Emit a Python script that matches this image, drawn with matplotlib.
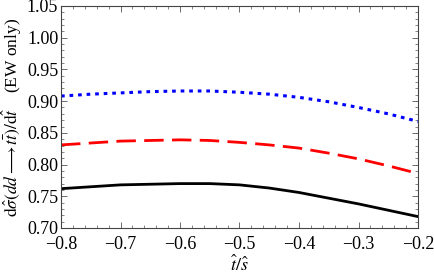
import matplotlib
matplotlib.use("Agg")
import matplotlib.pyplot as plt
from matplotlib.ticker import MultipleLocator, FuncFormatter

plt.rcParams['font.family'] = ['Liberation Serif', 'DejaVu Serif']
plt.rcParams['mathtext.fontset'] = 'stix'

x = [-0.8, -0.75, -0.7, -0.65, -0.6, -0.55, -0.5, -0.45, -0.4, -0.35, -0.3, -0.25, -0.2]
black = [0.762, 0.765, 0.768, 0.769, 0.770, 0.770, 0.768, 0.763, 0.756, 0.747, 0.738, 0.728, 0.718]
red = [0.831, 0.834, 0.837, 0.838, 0.839, 0.838, 0.835, 0.831, 0.826, 0.818, 0.809, 0.798, 0.786]
blue = [0.908, 0.911, 0.913, 0.915, 0.916, 0.916, 0.914, 0.911, 0.906, 0.899, 0.890, 0.880, 0.868]

fig = plt.figure(figsize=(4.35, 2.77), dpi=100)
ax = fig.add_axes([61/435, 1 - 228/277, (418-61)/435, (228-6)/277])

ax.plot(x, black, color='black', lw=2)
ax.plot(x, red, color='red', lw=2, dashes=(7, 3))
ax.plot(x, blue, color='blue', lw=2.2, dashes=(1.2, 1.6))

ax.set_xlim(-0.8, -0.2)
ax.set_ylim(0.70, 1.05)
ax.xaxis.set_major_locator(MultipleLocator(0.1))
ax.xaxis.set_minor_locator(MultipleLocator(0.02))
ax.yaxis.set_major_locator(MultipleLocator(0.05))
ax.yaxis.set_minor_locator(MultipleLocator(0.01))
ax.xaxis.set_major_formatter(FuncFormatter(lambda v, p: ('%.1f' % v).replace('-', '\u2212')))
ax.yaxis.set_major_formatter(FuncFormatter(lambda v, p: '%.2f' % v))
ax.tick_params(which='both', direction='in', top=True, right=True, labelsize=13, color='#555555')
ax.tick_params(which='major', length=4, width=0.6)
ax.tick_params(axis='y', which='major', pad=2)
ax.tick_params(axis='x', which='major', pad=5.5)
ax.tick_params(which='minor', length=2, width=0.5)
for s in ax.spines.values():
    s.set_linewidth(0.8)
    s.set_color('#444444')

ax.set_xlabel(r'$\hat{t}/\hat{s}$', fontsize=13, labelpad=2)
ax.set_ylabel(r'$\mathrm{d}\hat{\sigma}(d\bar{d}\longrightarrow t\bar{t})/\mathrm{d}\hat{t}$    (EW only)', fontsize=12.5, labelpad=2)

fig.savefig('out.png', dpi=100)
